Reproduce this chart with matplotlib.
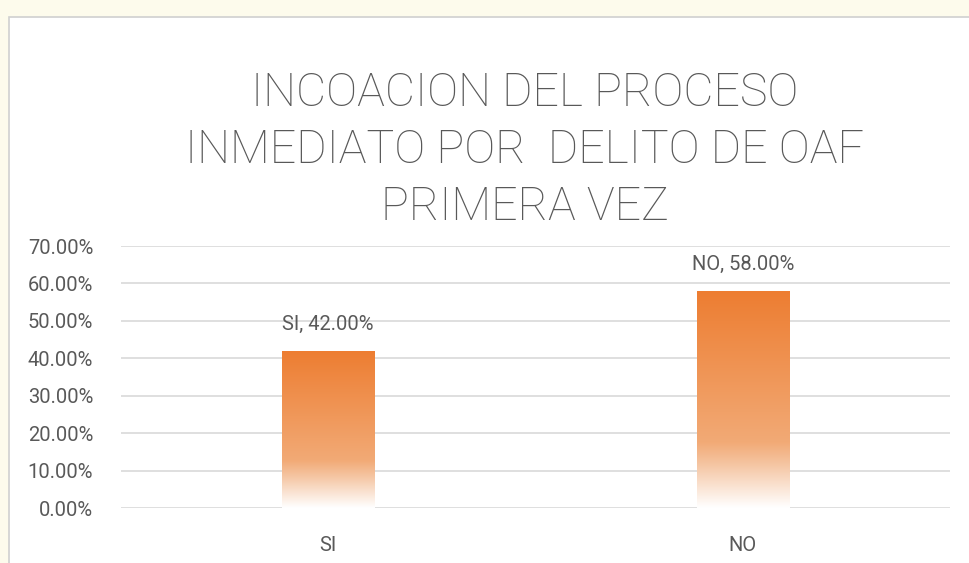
import matplotlib
matplotlib.use("Agg")
import matplotlib.pyplot as plt
import numpy as np
from matplotlib.patches import Rectangle
from matplotlib.colors import LinearSegmentedColormap
from matplotlib.ticker import FuncFormatter

categories = ["SI", "NO"]
values = [0.42, 0.58]
title = "INCOACION DEL PROCESO\nINMEDIATO POR  DELITO DE OAF\nPRIMERA VEZ"
yticks = [0.0, 0.1, 0.2, 0.3, 0.4, 0.5, 0.6, 0.7]

plt.rcParams['font.family'] = ['Roboto', 'DejaVu Sans']
TXT = '#595959'

fig = plt.figure(figsize=(9.7, 5.63), dpi=100)
fig.patch.set_facecolor('#FDFBEC')
# chart box
fig.patches.append(Rectangle((9/970, -0.1), 1.2, 1 - 17/563 + 0.1, transform=fig.transFigure,
                             facecolor='white', edgecolor='#D0D0D0', linewidth=1.2, zorder=-5))

ax = fig.add_axes([121/970, 1 - 508/563, (950 - 121)/970, (508 - 246)/563])
ax.set_zorder(2)
ax.set_facecolor('none')
ax.set_ylim(0, 0.7)
ax.set_xlim(-0.5, 1.5)
ax.set_yticks(yticks)
ax.yaxis.set_major_formatter(FuncFormatter(lambda v, p: f"{v*100:.2f}%"))
ax.grid(axis='y', color='#D9D9D9', linewidth=1.2)
ax.set_axisbelow(True)
for s in ax.spines.values():
    s.set_visible(False)
ax.tick_params(axis='both', length=0, colors=TXT, labelsize=14.5)
ax.tick_params(axis='y', pad=20)
ax.tick_params(axis='x', pad=20)
ax.set_xticks(range(len(categories)))
ax.set_xticklabels(categories)

cmap = LinearSegmentedColormap.from_list('grad', [(0.0, '#ED7D31'), (0.70, '#F2AA76'), (0.80, '#F5C5A2'), (1.0, '#FFFFFF')])
grad = np.linspace(0, 1, 256).reshape(-1, 1)
w = 0.222
for i, (c, v) in enumerate(zip(categories, values)):
    rect = Rectangle((i - w/2, 0), w, v, facecolor='none', edgecolor='none')
    ax.add_patch(rect)
    im = ax.imshow(grad, cmap=cmap, aspect='auto', extent=(i - w/2, i + w/2, 0, v),
                   origin='upper', zorder=2, interpolation='bilinear')
    im.set_clip_path(rect)
    ax.text(i, v + 0.07, f"{c}, {v*100:.2f}%", ha='center', va='center', color=TXT,
            fontsize=14.5)
ax.set_xlim(-0.5, 1.5)
ax.set_ylim(0, 0.7)

fig.text(525/970, 1 - 150/563, title, ha='center', va='center', color=TXT,
         fontsize=33.5, fontweight='light', linespacing=1.38)

fig.savefig('out.png', dpi=100)
